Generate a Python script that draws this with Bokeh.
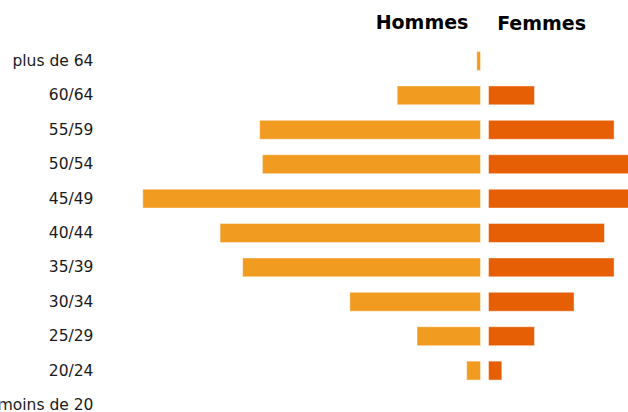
import numpy as np
from bokeh.plotting import figure
from bokeh.models import ColumnDataSource, Range1d
from bokeh.core.properties import value
from bokeh.embed import file_html
from bokeh.resources import INLINE

# ---- data ----
categories = ["plus de 64", "60/64", "55/59", "50/54", "45/49", "40/44",
              "35/39", "30/34", "25/29", "20/24", "moins de 20"]
hommes = [0.8, 18.1, 48.0, 47.4, 73.4, 56.6, 51.7, 28.4, 13.8, 3.0, 0.0]
femmes = [0.0, 10.0, 27.3, 33.0, 34.0, 25.2, 27.3, 18.6, 10.0, 2.9, 0.0]
series_labels = ["Hommes", "Femmes"]

# ---- layout constants ----
GAP = 0.87          # half gap between the two halves (data units)
FONT = value("DejaVu Sans")
C_H = "#F29B21"
C_F = "#E65F05"

n = len(categories)
ypos = np.arange(n)
h = np.array(hommes)
f = np.array(femmes)

src = ColumnDataSource(dict(
    y=ypos,
    cat=categories,
    h_left=-GAP - h,
    h_right=np.full(n, -GAP),
    f_left=np.full(n, GAP),
    f_right=GAP + f,
))

p = figure(width=628, height=412, output_backend="svg", toolbar_location=None,
           x_range=Range1d(-105.2, 31.3), y_range=Range1d(10.218, -1.759),
           min_border=0, outline_line_color=None,
           x_axis_location=None, y_axis_location=None,
           margin=0)
p.grid.visible = False
p.background_fill_color = "white"
p.border_fill_color = "white"

BAR_H = 0.55
p.hbar(y="y", left="h_left", right="h_right", height=BAR_H, source=src,
       fill_color=C_H, line_color="white", line_alpha=0.45, line_width=1)
p.hbar(y="y", left="f_left", right="f_right", height=BAR_H, source=src,
       fill_color=C_F, line_color="white", line_alpha=0.45, line_width=1)

# category labels
p.text(x=-85, y="y", text="cat", source=src, text_align="right",
       text_baseline="middle", text_font=FONT, text_font_size="15.5px",
       text_color="#1a1a1a")

# series headings
p.text(x=[-3.5], y=[-1.135], text=[series_labels[0]], text_align="right",
       text_baseline="alphabetic", text_font=FONT, text_font_size="19px",
       text_font_style="bold", text_color="#000000")
p.text(x=[2.75], y=[-1.11], text=[series_labels[1]], text_align="left",
       text_baseline="alphabetic", text_font=FONT, text_font_size="19px",
       text_font_style="bold", text_color="#000000")

with open("out.html", "w") as fh:
    fh.write(file_html(p, INLINE))
